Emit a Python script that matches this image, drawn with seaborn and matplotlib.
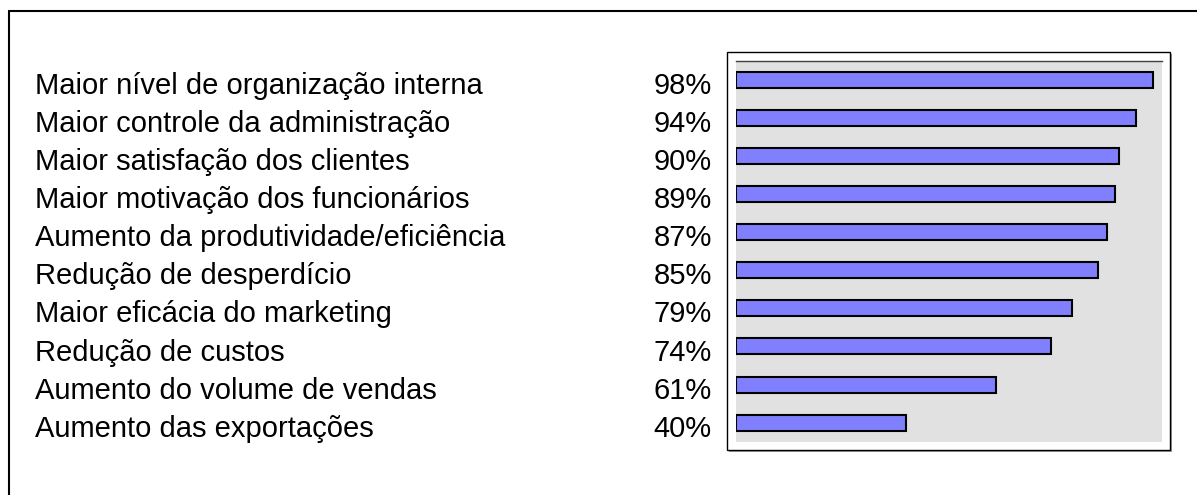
import numpy as np
import pandas as pd
import matplotlib
matplotlib.use("Agg")
import matplotlib.pyplot as plt
import matplotlib.transforms as mtransforms
from matplotlib.patches import Rectangle
from matplotlib.lines import Line2D
import seaborn as sns

categorias = [
    "Maior nível de organização interna",
    "Maior controle da administração",
    "Maior satisfação dos clientes",
    "Maior motivação dos funcionários",
    "Aumento da produtividade/eficiência",
    "Redução de desperdício",
    "Maior eficácia do marketing",
    "Redução de custos",
    "Aumento do volume de vendas",
    "Aumento das exportações",
]
valores = [98, 94, 90, 89, 87, 85, 79, 74, 61, 40]

df = pd.DataFrame({"categoria": categorias, "valor": valores})

sns.set_style("white")
plt.rcParams["font.family"] = ["Liberation Sans", "DejaVu Sans"]

W, H = 1197, 495
fig = plt.figure(figsize=(W / 100, H / 100), dpi=100)

# outer frame (top and left only visible)
fig.add_artist(Line2D([9 / W, 1], [1 - 10.5 / H, 1 - 10.5 / H], color="black", lw=1.5, transform=fig.transFigure))
fig.add_artist(Line2D([9 / W, 9 / W], [0, 1 - 10.5 / H], color="black", lw=1.5, transform=fig.transFigure))

# white plot box with shadow, drawn under the axes
fig.add_artist(Rectangle((729 / W, (H - 452) / H), 443 / W, 398 / H, transform=fig.transFigure,
                         facecolor="#a0a0a0", edgecolor="none", zorder=-2))
fig.add_artist(Rectangle((727 / W, (H - 450) / H), 443 / W, 398 / H, transform=fig.transFigure,
                         facecolor="white", edgecolor="black", lw=1.0, zorder=-1))

ax = fig.add_axes([735.7 / W, (H - 441.7) / H, (1162 - 735.7) / W, (441.7 - 60.7) / H])
ax.set_zorder(1)
ax.set_facecolor("#e1e1e1")
sns.barplot(data=df, x="valor", y="categoria", orient="h", color="#8080ff",
            edgecolor="black", linewidth=1.5, width=0.42, saturation=1, ax=ax)
ax.set_xlim(0, 100)
ax.set_ylim(len(categorias) - 0.5, -0.5)
ax.set_xticks([])
ax.set_yticks([])
ax.set_xlabel("")
ax.set_ylabel("")
for s in ["left", "right", "bottom"]:
    ax.spines[s].set_visible(False)
ax.spines["top"].set_color("#404040")
ax.spines["top"].set_linewidth(1.0)

trans = mtransforms.blended_transform_factory(fig.transFigure, ax.transData)
for i, (c, v) in enumerate(zip(categorias, valores)):
    ax.text(35 / W, i + 0.37, c, transform=trans, ha="left", va="baseline",
            fontsize=21, color="black", clip_on=False)
    ax.text(712 / W, i + 0.37, f"{v}%", transform=trans, ha="right", va="baseline",
            fontsize=21, color="black", clip_on=False)

fig.savefig("out.png", dpi=100)
